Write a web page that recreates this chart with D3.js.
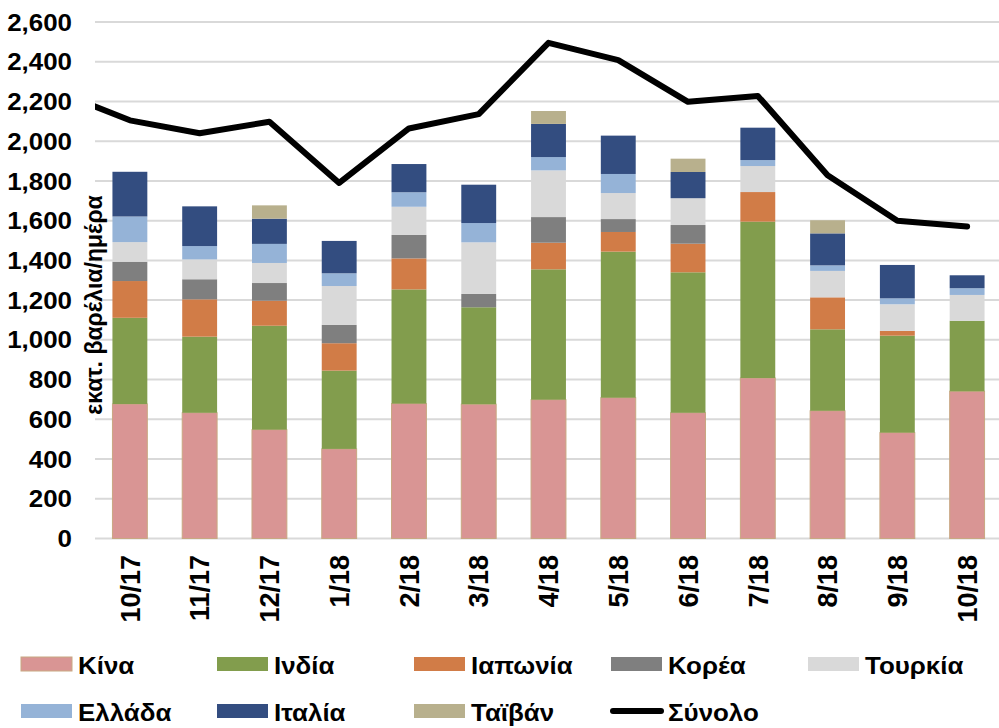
<!DOCTYPE html>
<html>
<head>
<meta charset="utf-8">
<script src="https://cdn.jsdelivr.net/npm/d3@7"></script>
<style>
    body { margin: 0; background: #fff; }
    svg { display: block; font-family: "Liberation Sans", Arial, sans-serif; font-weight: bold; }
</style>
</head>
<body>
<div id="chart"></div>
<script>
// months on the x axis
const months = ["10/17", "11/17", "12/17", "1/18", "2/18", "3/18", "4/18", "5/18", "6/18", "7/18", "8/18", "9/18", "10/18"];

// stacked series, bottom to top
const china  = [677, 633, 548, 451, 679, 676, 699, 709, 633, 808, 643, 533, 741];
const india  = [434, 383, 523, 394, 575, 488, 656, 735, 707, 787, 410, 488, 355];
const japan  = [185, 188, 126, 138, 156, 0, 134, 99, 144, 149, 161, 24, 0];
const korea  = [97, 101, 89, 92, 118, 67, 129, 65, 94, 0, 0, 0, 0];
const turkey = [99, 100, 101, 196, 142, 260, 235, 131, 135, 131, 133, 134, 130];
const greece = [129, 67, 96, 64, 73, 97, 67, 96, 0, 30, 28, 30, 34];
const italy  = [225, 200, 127, 163, 142, 193, 167, 193, 132, 163, 161, 168, 65];
const taiwan = [0, 0, 67, 0, 0, 0, 65, 0, 67, 0, 66, 0, 0];

// total line; the line also has the month before 10/17 (clipped by the axis)
const totalPrev = 2245;
const total = [2105, 2040, 2098, 1790, 2064, 2136, 2495, 2408, 2198, 2228, 1829, 1600, 1571];

const yTicks = [0, 200, 400, 600, 800, 1000, 1200, 1400, 1600, 1800, 2000, 2200, 2400, 2600];

const seriesNames = ["Κίνα", "Ινδία", "Ιαπωνία", "Κορέα", "Τουρκία", "Ελλάδα", "Ιταλία", "Ταϊβάν"];
const seriesValues = [china, india, japan, korea, turkey, greece, italy, taiwan];
const colors = ["#d99594", "#829d4d", "#d17c47", "#7f7f7f", "#d9d9d9", "#95b3d7", "#334d80", "#b8b08d"];
const totalName = "Σύνολο";

const W = 999, H = 728;
const plotLeft = 95, plotRight = 1002, plotTop = 22, plotBottom = 538.5;
const stretch = 1.08; // text in the picture is a bit wide

var svg = d3.select("#chart").append("svg")
    .attr("width", W)
    .attr("height", H);

var x = d3.scaleBand()
    .domain(months)
    .range([plotLeft, plotRight])
    .paddingInner(0.5)
    .paddingOuter(0.25);

var y = d3.scaleLinear()
    .domain([0, 2600])
    .range([plotBottom, plotTop]);

// gridlines
svg.append("g").selectAll("line")
    .data(yTicks)
    .enter().append("line")
    .attr("x1", plotLeft)
    .attr("x2", W)
    .attr("y1", d => y(d))
    .attr("y2", d => y(d))
    .style("stroke", "#d9d9d9")
    .style("stroke-width", 2);

// y tick labels
svg.append("g").selectAll("text")
    .data(yTicks)
    .enter().append("text")
    .attr("transform", d => `translate(72,${y(d)}) scale(${stretch},1)`)
    .attr("dy", "0.36em")
    .attr("text-anchor", "end")
    .style("font-size", "24px")
    .text(d => d3.format(",")(d));

// stacked bars
var table = months.map((m, i) => {
    var row = { month: m };
    seriesNames.forEach((s, k) => { row[s] = seriesValues[k][i]; });
    return row;
});
var stacked = d3.stack().keys(seriesNames)(table);

var layer = svg.append("g").selectAll("g")
    .data(stacked)
    .enter().append("g")
    .style("fill", (d, k) => colors[k])
    .style("stroke", d => d.key === "Κίνα" ? "#c8a882" : "none")
    .style("stroke-width", 1);

layer.selectAll("rect")
    .data(d => d.filter(p => p[1] > p[0]))
    .enter().append("rect")
    .attr("x", d => x(d.data.month))
    .attr("width", x.bandwidth())
    .attr("y", d => y(d[1]))
    .attr("height", d => y(d[0]) - y(d[1]));

// y axis title
svg.append("text")
    .attr("transform", "translate(102,305) rotate(-90)")
    .attr("text-anchor", "middle")
    .style("font-size", "23px")
    .text("εκατ. βαρέλια/ημέρα");

// total line
svg.append("clipPath").attr("id", "plotClip")
    .append("rect")
    .attr("x", plotLeft).attr("y", 0)
    .attr("width", W - plotLeft).attr("height", H);

var linePts = [[x(months[0]) + x.bandwidth() / 2 - x.step(), totalPrev]]
    .concat(months.map((m, i) => [x(m) + x.bandwidth() / 2, total[i]]));

svg.append("path")
    .datum(linePts)
    .attr("clip-path", "url(#plotClip)")
    .attr("d", d3.line().x(d => d[0]).y(d => y(d[1])))
    .style("fill", "none")
    .style("stroke", "#000")
    .style("stroke-width", 6)
    .style("stroke-linejoin", "round")
    .style("stroke-linecap", "round");

// x labels
svg.append("g").selectAll("text")
    .data(months)
    .enter().append("text")
    .attr("transform", d => `translate(${x(d) + x.bandwidth() / 2},555) rotate(-90)`)
    .attr("dy", "0.36em")
    .attr("text-anchor", "end")
    .style("font-size", "27px")
    .text(d => d);

// legend
const legX = [21, 217, 414, 611, 808];
const legY = [657, 704];
var legendItems = seriesNames.map((s, k) => ({ name: s, color: colors[k], line: false }));
legendItems.push({ name: totalName, color: "#000", line: true });

var leg = svg.append("g").selectAll("g")
    .data(legendItems)
    .enter().append("g")
    .attr("transform", (d, i) => `translate(${legX[i % 5]},${legY[Math.floor(i / 5)]})`);

leg.filter(d => !d.line).append("rect")
    .attr("width", 51)
    .attr("height", 14)
    .style("fill", d => d.color)
    .style("stroke", d => d.name === "Κίνα" ? "#c8a882" : "none");

leg.filter(d => d.line).append("line")
    .attr("x1", 2).attr("x2", 50)
    .attr("y1", 7).attr("y2", 7)
    .style("stroke", "#000")
    .style("stroke-width", 6)
    .style("stroke-linecap", "round");

leg.append("text")
    .attr("transform", `translate(57,17) scale(${stretch},1)`)
    .style("font-size", "24px")
    .text(d => d.name);
</script>
</body>
</html>
